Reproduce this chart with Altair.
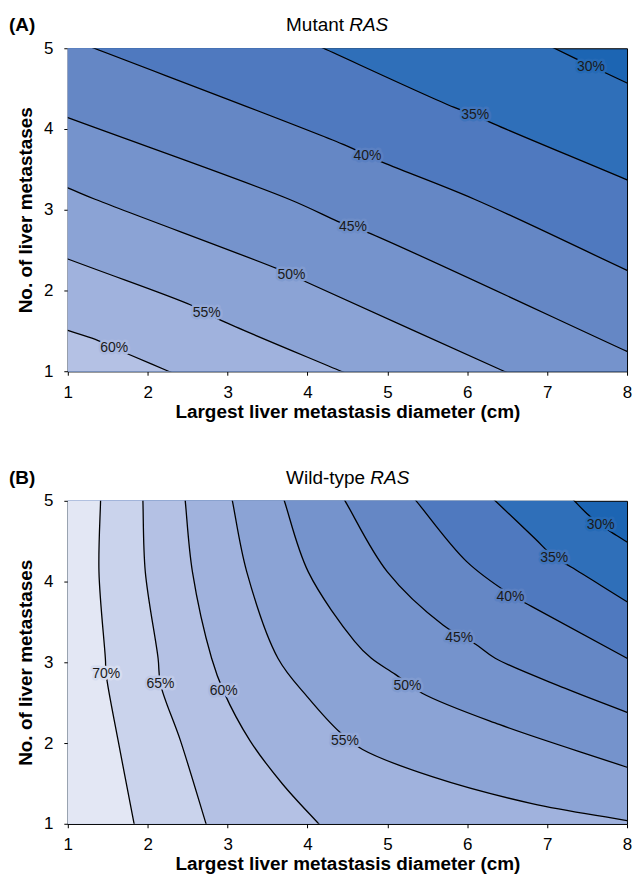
import altair as alt
import pandas as pd

X_TICKS = [1, 2, 3, 4, 5, 6, 7, 8]
Y_TICKS = [1, 2, 3, 4, 5]

# colour of the region where the value is >= level
BAND_LEVELS = [70, 65, 60, 55, 50, 45, 40, 35, 30]
BAND_COLORS = ["#e3e7f4", "#cad3ec", "#b4c1e4", "#a0b2dd", "#8ba3d5",
               "#7593cc", "#6587c5", "#4f79bf", "#2f6fb9"]
BELOW_30_COLOR = "#1c65b3"

# ---- Panel A : Mutant RAS (contour lines) ----
A_LEVELS = [30, 35, 40, 45, 50, 55, 60]
A_LINE_X = {
    30: [7.09, 7.55, 8.0],
    35: [4.20, 5.83, 6.10, 6.34, 8.0],
    40: [1.33, 4.47, 4.75, 4.98, 6.09, 8.0],
    45: [1.0, 3.77, 4.37, 4.57, 4.75, 8.0],
    50: [1.0, 1.34, 3.62, 3.80, 4.02, 6.46],
    55: [1.0, 2.54, 2.74, 2.94, 4.42],
    60: [1.0, 1.38, 1.58, 1.76, 2.26],
}
A_LINE_Y = {
    30: [5.0, 4.78, 4.57],
    35: [5.0, 4.27, 4.17, 4.06, 3.37],
    40: [5.0, 3.80, 3.67, 3.57, 3.13, 2.25],
    45: [4.14, 3.13, 2.86, 2.78, 2.72, 1.245],
    50: [3.27, 3.13, 2.27, 2.19, 2.09, 1.0],
    55: [2.39, 1.82, 1.72, 1.62, 1.0],
    60: [1.506, 1.38, 1.29, 1.21, 1.0],
}
A_LABEL_X = [7.55, 6.10, 4.75, 4.57, 3.80, 2.74, 1.58]
A_LABEL_Y = [4.77, 4.17, 3.67, 2.78, 2.19, 1.72, 1.29]

# ---- Panel B : Wild-type RAS ----
B_LEVELS = [30, 35, 40, 45, 50, 55, 60, 65, 70]
B_LINE_X = {
    30: [7.34, 7.50, 7.67, 7.87, 8.0],
    35: [6.35, 6.85, 7.09, 7.30, 8.0],
    40: [5.36, 5.99, 6.54, 6.81, 8.0],
    45: [4.47, 5.0, 5.70, 6.11, 6.35, 7.22, 8.0],
    50: [3.71, 4.01, 4.59, 4.80, 5.10, 5.43, 6.40, 8.0],
    55: [3.06, 3.24, 3.63, 4.01, 4.41, 4.69, 5.57, 6.81, 8.0],
    60: [2.47, 2.56, 2.80, 2.95, 3.28, 3.69, 4.14],
    65: [1.94, 1.97, 2.13, 2.16, 2.41, 2.73],
    70: [1.41, 1.39, 1.47, 1.48, 1.63, 1.83],
}
B_LINE_Y = {
    30: [5.0, 4.84, 4.70, 4.57, 4.49],
    35: [5.0, 4.53, 4.30, 4.18, 3.75],
    40: [5.0, 4.25, 3.84, 3.69, 3.05],
    45: [5.0, 4.12, 3.46, 3.22, 3.05, 2.68, 2.38],
    50: [5.0, 4.12, 3.26, 3.05, 2.85, 2.62, 2.23, 1.70],
    55: [5.0, 4.12, 3.05, 2.56, 2.13, 1.92, 1.58, 1.25, 1.04],
    60: [5.0, 4.12, 3.05, 2.64, 2.03, 1.49, 1.0],
    65: [5.0, 4.12, 3.05, 2.73, 2.03, 1.0],
    70: [5.0, 4.12, 3.05, 2.85, 2.03, 1.0],
}
B_LABEL_X = [7.67, 7.09, 6.54, 5.90, 5.25, 4.47, 2.95, 2.16, 1.48]
B_LABEL_Y = [4.70, 4.29, 3.81, 3.30, 2.71, 2.03, 2.64, 2.73, 2.85]

FONT = "Liberation Sans"
W, H = 561, 324


def band_color(level):
    if level < 30:
        return BELOW_30_COLOR
    return BAND_COLORS[BAND_LEVELS.index(level)]


def mix(c1, c2):
    a = [int(c1[i:i + 2], 16) for i in (1, 3, 5)]
    b = [int(c2[i:i + 2], 16) for i in (1, 3, 5)]
    return "#" + "".join(f"{(p + q) // 2:02x}" for p, q in zip(a, b))


def extended(xs, ys):
    """Continue both ends of a contour past the frame so fills reach the edges."""
    pts = list(zip(xs, ys))
    (x0, y0), (x1, y1) = pts[0], pts[1]
    t = max((5.15 - y0) / max(y0 - y1, 1e-6), 0.3)
    top = (x0 + t * (x0 - x1), y0 + t * (y0 - y1))
    (xa, ya), (xb, yb) = pts[-2], pts[-1]
    t = max((yb - 0.85) / max(ya - yb, 1e-6), 0.3)
    bot = (xb + t * (xb - xa), yb + t * (yb - ya))
    return [top] + pts + [bot]


def panel(levels, line_x, line_y, lab_x, lab_y, letter, title_a, title_offset):
    xs = alt.Scale(domain=[1, 8], nice=False, zero=False)
    ys = alt.Scale(domain=[1, 5], nice=False, zero=False)
    xax = alt.Axis(values=X_TICKS, format="d", title="Largest liver metastasis diameter (cm)",
                   titlePadding=2, labelPadding=9, labelFlush=False)
    yax = alt.Axis(values=Y_TICKS, format="d", title="No. of liver metastases",
                   titlePadding=8, labelPadding=11, labelFlush=False)
    X = alt.X("x:Q", scale=xs, axis=xax, stack=None)
    Y = alt.Y("y:Q", scale=ys, axis=yax)

    layers = []
    line_rows = []
    for L in sorted(levels):
        pts = extended(line_x[L], line_y[L])
        df = pd.DataFrame({"x": [p[0] for p in pts], "y": [p[1] for p in pts],
                           "x0": [1.0] * len(pts), "i": list(range(len(pts)))})
        layers.append(
            alt.Chart(df).mark_area(orient="horizontal", interpolate="catmull-rom",
                                    clip=True, color=band_color(L))
            .encode(x=X, x2=alt.X2("x0:Q"), y=Y)
        )
        for i, p in enumerate(pts):
            line_rows.append({"x": p[0], "y": p[1], "i": i, "level": L})

    layers.append(
        alt.Chart(pd.DataFrame(line_rows))
        .mark_line(interpolate="catmull-rom", clip=True, color="black", strokeWidth=1.3)
        .encode(x=X, y=Y, detail="level:N", order="i:Q")
    )

    lab = pd.DataFrame({
        "x": lab_x, "y": lab_y,
        "t": [f"{L}%" for L in sorted(levels)],
        "halo": [mix(band_color(L), band_color(L - 5)) for L in sorted(levels)],
    })
    layers.append(
        alt.Chart(lab).mark_text(font=FONT, fontSize=14, strokeWidth=5, strokeJoin="round")
        .encode(x=X, y=Y, text="t:N",
                stroke=alt.Stroke("halo:N", scale=None), fill=alt.Fill("halo:N", scale=None))
    )
    layers.append(
        alt.Chart(lab).mark_text(font=FONT, fontSize=14, color="#1a1a1a")
        .encode(x=X, y=Y, text="t:N")
    )

    one = pd.DataFrame({"a": [letter], "b": [title_a], "c": ["RAS"]})
    layers.append(
        alt.Chart(one).mark_text(font=FONT, fontSize=19, fontWeight="bold", align="left",
                                 baseline="alphabetic", color="black")
        .encode(x=alt.value(-59), y=alt.value(-17), text="a:N")
    )
    layers.append(
        alt.Chart(one).mark_text(font=FONT, fontSize=19, align="left",
                                 baseline="alphabetic", color="black")
        .encode(x=alt.value(219), y=alt.value(-17), text="b:N")
    )
    layers.append(
        alt.Chart(one).mark_text(font=FONT, fontSize=19, fontStyle="italic", align="left",
                                 baseline="alphabetic", color="black")
        .encode(x=alt.value(219 + title_offset), y=alt.value(-17), text="c:N")
    )
    return alt.layer(*layers).properties(width=W, height=H)


pa = panel(A_LEVELS, A_LINE_X, A_LINE_Y, A_LABEL_X, A_LABEL_Y, "(A)", "Mutant", 63.4)
pb = panel(B_LEVELS, B_LINE_X, B_LINE_Y, B_LABEL_X, B_LABEL_Y, "(B)", "Wild-type", 84.5)

chart = (
    alt.vconcat(pa, pb, spacing=46)
    .properties(padding={"left": 0, "top": 6, "right": 0, "bottom": 0})
    .configure_view(fill=BELOW_30_COLOR, stroke="black", strokeWidth=1)
    .configure_axis(labelFont=FONT, labelFontSize=17, labelColor="black",
                    titleFont=FONT, titleFontSize=19, titleFontWeight="bold",
                    titleColor="black", domainColor="black", tickColor="black",
                    tickSize=4, grid=False)
)

chart.save("out.html", embed_options={"renderer": "svg", "actions": False})
